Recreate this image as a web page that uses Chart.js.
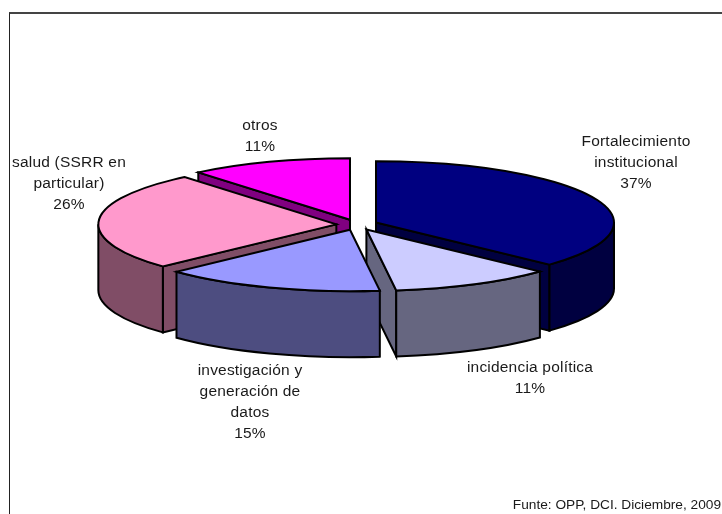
<!DOCTYPE html>
<html>
<head>
<meta charset="utf-8">
<style>
  html, body { margin: 0; padding: 0; background: #fff; overflow: hidden; }
  #wrap { position: relative; width: 722px; height: 514px; }
  #frame { position: absolute; left: 9px; top: 12px; right: 0; bottom: 0; border-left: 1.5px solid #222; border-top: 2px solid #444; }
  canvas { position: absolute; left: 0; top: 0; }
</style>
</head>
<body>
<div id="wrap">
  <div id="frame"></div>
  <canvas id="pie" width="722" height="514"></canvas>
</div>
<script src="https://cdn.jsdelivr.net/npm/chart.js@4/dist/chart.umd.min.js"></script>
<script>
const categories = ['Fortalecimiento institucional', 'incidencia política', 'investigación y generación de datos', 'salud (SSRR en particular)', 'otros'];
const shares = [37, 11, 15, 26, 11];
const labelLines = [
    ['Fortalecimiento', 'institucional'],
    ['incidencia política'],
    ['investigación y', 'generación de', 'datos'],
    ['salud (SSRR en', 'particular)'],
    ['otros']
];
const sourceNote = 'Funte: OPP, DCI. Diciembre, 2009';

// styles
const topColors = ['#000080', '#CCCCFF', '#9999FF', '#FF99CC', '#FF00FF'];
const sideColors = ['#000040', '#666680', '#4D4D80', '#804D66', '#800080'];
const labelAnchors = [[636, 142], [530, 368], [250, 371], [69, 163], [260, 126]]; // centre x, middle of first line
const tilt = 0.258;
const depth = 66;
const lineHeight = 20.8;

// Chart.js pie has no 3D mode, so redraw each arc element as a squashed prism
const pie3d = {
    id: 'pie3d',
    beforeDatasetDraw(chart, args) {
        const ctx = chart.ctx;
        const arcs = args.meta.data.map((arc, i) => {
            const p = arc.getProps(['x', 'y', 'startAngle', 'endAngle', 'outerRadius'], true);
            const mid = (p.startAngle + p.endAngle) / 2;
            const off = arc.options.offset;
            return {
                i, mid,
                start: p.startAngle,
                end: p.endAngle,
                r: p.outerRadius,
                cx: p.x + Math.cos(mid) * off,
                cy: p.y + Math.sin(mid) * off * tilt
            };
        });
        // back to front
        arcs.sort((a, b) => Math.sin(a.mid) - Math.sin(b.mid));

        ctx.save();
        ctx.lineWidth = 2;
        ctx.strokeStyle = '#000';
        ctx.lineJoin = 'miter';
        arcs.forEach(a => {
            const ry = a.r * tilt;
            const rimX = t => a.cx + Math.cos(t) * a.r;
            const rimY = t => a.cy + Math.sin(t) * ry;
            ctx.fillStyle = sideColors[a.i];

            // cut faces, only the ones turned to the viewer
            [[a.start, -Math.cos(a.start)], [a.end, Math.cos(a.end)]].forEach(([t, facing]) => {
                if (facing <= 0.001) return;
                ctx.beginPath();
                ctx.moveTo(a.cx, a.cy);
                ctx.lineTo(rimX(t), rimY(t));
                ctx.lineTo(rimX(t), rimY(t) + depth);
                ctx.lineTo(a.cx, a.cy + depth);
                ctx.closePath();
                ctx.fill();
                ctx.stroke();
            });

            // outer wall, front half of the ellipse only
            const from = Math.max(a.start, 0);
            const to = Math.min(a.end, Math.PI);
            if (to > from) {
                ctx.beginPath();
                ctx.ellipse(a.cx, a.cy, a.r, ry, 0, from, to);
                ctx.lineTo(rimX(to), rimY(to) + depth);
                ctx.ellipse(a.cx, a.cy + depth, a.r, ry, 0, to, from, true);
                ctx.closePath();
                ctx.fill();
                ctx.stroke();
            }

            // top face
            ctx.fillStyle = topColors[a.i];
            ctx.beginPath();
            ctx.moveTo(a.cx, a.cy);
            ctx.ellipse(a.cx, a.cy, a.r, ry, 0, a.start, a.end);
            ctx.closePath();
            ctx.fill();
            ctx.stroke();
        });
        ctx.restore();
        return false;
    },
    afterDraw(chart) {
        const ctx = chart.ctx;
        ctx.save();
        ctx.fillStyle = '#1a1a1a';
        ctx.font = '15.5px "Liberation Sans"';
        ctx.letterSpacing = '0.2px';
        ctx.textAlign = 'center';
        ctx.textBaseline = 'middle';
        labelLines.forEach((lines, i) => {
            const [x, y] = labelAnchors[i];
            const all = lines.concat(shares[i] + '%');
            all.forEach((line, k) => ctx.fillText(line, x, y + k * lineHeight));
        });
        ctx.font = '13.7px "Liberation Sans"';
        ctx.letterSpacing = '0px';
        ctx.textAlign = 'right';
        ctx.fillText(sourceNote, 721, 505);
        ctx.restore();
    }
};

new Chart(document.getElementById('pie').getContext('2d'), {
    type: 'pie',
    data: {
        labels: categories,
        datasets: [{
            data: shares,
            backgroundColor: topColors,
            offset: 20.7,
            radius: 238
        }]
    },
    options: {
        responsive: false,
        animation: false,
        layout: { padding: { left: 0, right: 8, top: 0, bottom: 64.6 } },
        plugins: { legend: { display: false }, tooltip: { enabled: false } }
    },
    plugins: [pie3d]
});
</script>
</body>
</html>
